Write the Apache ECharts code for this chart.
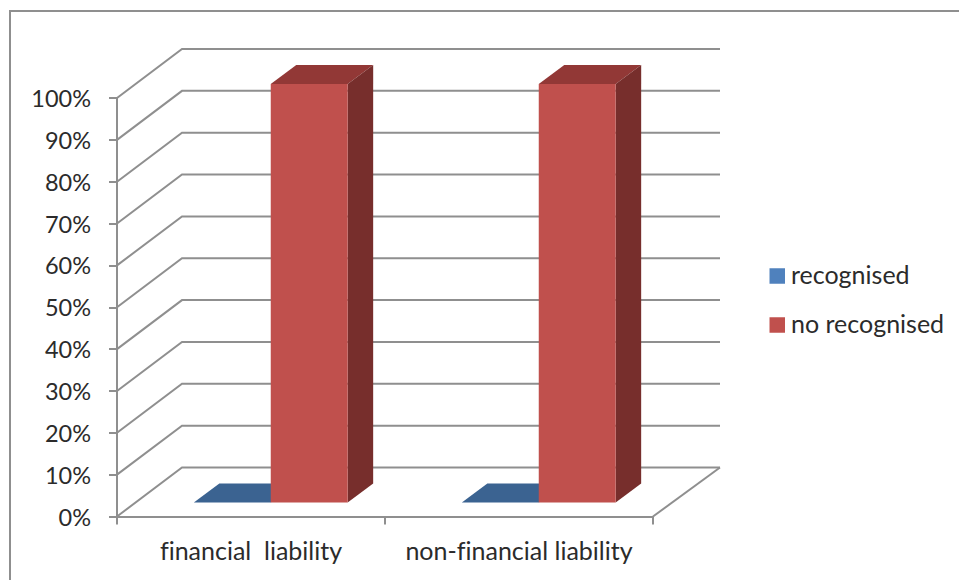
<!DOCTYPE html>
<html>
<head>
<meta charset="utf-8">
<style>html,body{margin:0;padding:0;background:#fff}#c{width:959px;height:580px}#c text{font-variant-ligatures:none}</style>
<script src="https://cdn.jsdelivr.net/npm/echarts@6/dist/echarts.min.js"></script>
</head>
<body>
<div id="c"></div>
<script>
const categories = ['financial  liability', 'non-financial liability'];
const recognised = [0, 0];
const noRecognised = [100, 100];
const yTicks = [0, 10, 20, 30, 40, 50, 60, 70, 80, 90, 100];

const GRAY = '#8f8f8f', TEXT = '#2b2b2b', FONT = 'Lato';
const WALL = { dx: 65, dxRight: 67, dy: -49 };  // depth of the 3D box
const FRONT = { dx: 19.75, dy: -14 };           // bars stand this far inside the box
const BAR = { dx: 25.5, dy: -19, w: 0.287 };

function wallItem(params, api) {
  const cs = params.coordSys;
  const y = api.coord([0, api.value(1)])[1];
  const style = { stroke: GRAY, lineWidth: 2, fill: null };
  const children = [
    { type: 'polyline', shape: { points: [[cs.x, y], [cs.x + WALL.dx, y + WALL.dy], [cs.x + cs.width + WALL.dxRight, y + WALL.dy]] }, style }
  ];
  if (api.value(1) === 0) {
    children.push({ type: 'line', shape: { x1: cs.x + cs.width, y1: y, x2: cs.x + cs.width + WALL.dxRight, y2: y + WALL.dy }, style });
  }
  return { type: 'group', children };
}

function barItem(shift, colors) {
  return function (params, api) {
    const top = api.coord([api.value(0), api.value(1)]);
    const base = api.coord([api.value(0), 0]);
    const w = api.size([1, 0])[0] * BAR.w;
    const x0 = top[0] + FRONT.dx + shift * w;
    const x1 = x0 + w;
    const yT = top[1] + FRONT.dy;
    const yB = base[1] + FRONT.dy;
    const children = [];
    children.push({ type: 'polygon', shape: { points: [[x0, yT], [x1, yT], [x1 + BAR.dx, yT + BAR.dy], [x0 + BAR.dx, yT + BAR.dy]] }, style: { fill: colors.top } });
    if (yB > yT) {
      children.push({ type: 'polygon', shape: { points: [[x1, yT], [x1 + BAR.dx, yT + BAR.dy], [x1 + BAR.dx, yB + BAR.dy], [x1, yB]] }, style: { fill: colors.side } });
      children.push({ type: 'rect', shape: { x: x0, y: yT, width: w, height: yB - yT }, style: { fill: colors.front } });
    }
    return { type: 'group', children };
  };
}

const chart = echarts.init(document.getElementById('c'), null, { renderer: 'svg' });
chart.setOption({
  animation: false,
  backgroundColor: '#fff',
  textStyle: { fontFamily: FONT },
  grid: { left: 117, top: 98, width: 536, height: 418.5, containLabel: false },
  legend: {
    left: 769.5, top: 261.5, padding: 0, orient: 'vertical', itemWidth: 15.5, itemHeight: 15.5, itemGap: 20,
    icon: 'rect', selectedMode: false,
    data: ['recognised', 'no recognised'],
    formatter: '{t|{name}}',
    textStyle: {
      fontFamily: FONT, fontSize: 25, color: TEXT,
      rich: { t: { fontFamily: FONT, fontSize: 25, lineHeight: 30, color: TEXT, padding: [0, 0, 4, 1] } }
    }
  },
  xAxis: {
    type: 'category', data: categories,
    axisLine: { lineStyle: { color: GRAY, width: 2 } },
    axisTick: { show: true, interval: 0, alignWithLabel: false, length: 8, lineStyle: { color: GRAY, width: 2 } },
    axisLabel: { interval: 0, hideOverlap: false, fontFamily: FONT, fontSize: 25, color: TEXT, margin: 21 }
  },
  yAxis: {
    type: 'value', min: 0, max: 100, interval: 10,
    axisLine: { show: true, lineStyle: { color: GRAY, width: 2 } },
    axisTick: { show: true, length: 8, lineStyle: { color: GRAY, width: 2 } },
    splitLine: { show: false },
    axisLabel: { formatter: '{value}%', fontFamily: FONT, fontSize: 23.5, color: TEXT, margin: 26 }
  },
  graphic: [{
    type: 'polyline', silent: true,
    shape: { points: [[10, 580], [10, 11], [959, 11]] },
    style: { stroke: GRAY, lineWidth: 2, fill: null }
  }],
  series: [
    { name: 'wall', type: 'custom', z: 1, silent: true, renderItem: wallItem, data: yTicks.map(t => [0, t]), encode: { x: 0, y: 1 } },
    { name: 'recognised', type: 'custom', z: 2, itemStyle: { color: '#4f81bd' }, renderItem: barItem(-1, { front: '#4f81bd', top: '#3b6391', side: '#2f4f75' }), data: recognised.map((v, i) => [i, v]), encode: { x: 0, y: 1 } },
    { name: 'no recognised', type: 'custom', z: 3, itemStyle: { color: '#c0504d' }, renderItem: barItem(0, { front: '#c0504d', top: '#923836', side: '#772e2c' }), data: noRecognised.map((v, i) => [i, v]), encode: { x: 0, y: 1 } }
  ]
});
</script>
</body>
</html>
